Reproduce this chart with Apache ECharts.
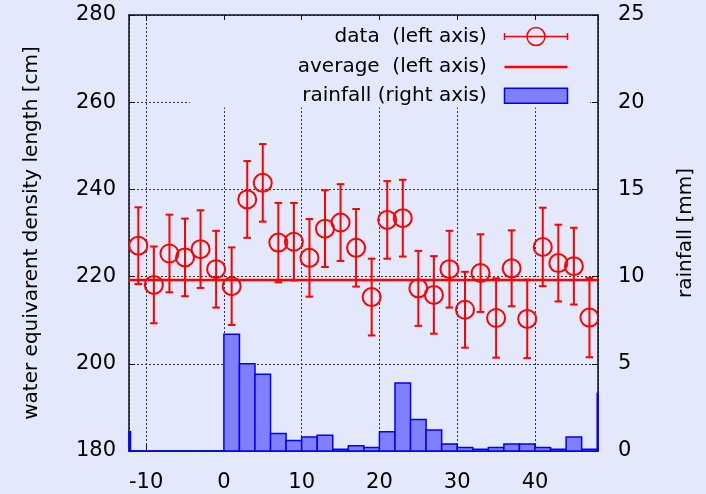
<!DOCTYPE html>
<html><head><meta charset="utf-8">
<script src="https://cdn.jsdelivr.net/npm/echarts@6/dist/echarts.min.js"></script>
<style>html,body{margin:0;padding:0;background:#e3e8fa}#c{width:706px;height:494px}</style>
</head><body><div id="c"></div>
<script>
// ---- data ----
const days = [-11,-9,-7,-5,-3,-1,1,3,5,7,9,11,13,15,17,19,21,23,25,27,29,31,33,35,37,39,41,43,45,47];
const density = [227.1,218.1,225.3,224.4,226.3,221.7,217.8,237.7,241.5,227.8,228.0,224.3,231.0,232.4,226.6,215.3,233.0,233.4,217.3,215.8,221.7,212.4,220.8,210.5,221.9,210.3,226.8,223.1,222.4,210.6];
const errors = [8.8,8.8,8.9,8.9,8.9,8.8,8.9,8.8,8.9,9.1,8.9,8.9,8.8,8.8,8.9,8.8,8.9,8.8,8.6,8.9,8.8,8.7,8.9,9.1,8.7,9.0,9.0,8.8,8.8,9.1];
const rainDays = [-13,-11,-9,-7,-5,-3,-1,1,3,5,7,9,11,13,15,17,19,21,23,25,27,29,31,33,35,37,39,41,43,45,47,49];
const rainfall = [1.1,0,0,0,0,0,0,6.7,5.0,4.4,1.0,0.6,0.8,0.9,0.1,0.3,0.2,1.1,3.9,1.8,1.2,0.4,0.2,0.1,0.2,0.4,0.4,0.2,0.1,0.8,0.1,3.3];
const binWidth = 2;
const average = 219.2;
const xRange = [-12.2, 48.1];
const leftRange = [180, 280, 20];
const rightRange = [0, 25, 5];
const names = ['data  (left axis)', 'average  (left axis)', 'rainfall (right axis)'];

// ---- chart ----
const BG = '#e3e8fa';
const FONT = 'DejaVu Sans';
const axisLineStyle = {color: '#111', width: 1.5};
const splitStyle = {show: true, lineStyle: {color: '#333', width: 1, type: [2, 2]}};
const tickStyle = {show: true, inside: true, length: 6, lineStyle: {color: '#111', width: 1}};

function gridRect(params) {
  const cs = params.coordSys;
  return {x: cs.x, y: cs.y, width: cs.width, height: cs.height};
}

const chart = echarts.init(document.getElementById('c'), null, {renderer: 'canvas'});
chart.setOption({
  backgroundColor: BG,
  animation: false,
  grid: {show: false, left: 129, right: 108, top: 15, bottom: 43},
  legend: {
    data: [
      {name: names[0], icon: 'path://M0,0M63,20M0,10H63M0,6.5V13.5M63,6.5V13.5M40.5,10A9,9,0,1,1,22.5,10A9,9,0,1,1,40.5,10',
       itemStyle: {color: 'none', borderColor: '#ff0000', borderWidth: 1.5}},
      {name: names[1], icon: 'path://M0,0M63,20M0,8.75H63V11.25H0Z',
       itemStyle: {color: '#ff0000', borderWidth: 0}},
      {name: names[2], icon: 'path://M0,0M63,20M0,2.5H63V17.5H0Z',
       itemStyle: {color: '#8080ff', borderColor: '#0000ff', borderWidth: 1.5}}
    ],
    orient: 'vertical', align: 'right',
    right: 116, top: 20,
    padding: [4, 20, 1, 108],
    itemWidth: 63, itemHeight: 20, itemGap: 8,
    backgroundColor: BG,
    formatter: n => n + '  ',
    textStyle: {fontFamily: FONT, fontSize: 20, color: '#000'},
    selectedMode: false
  },
  xAxis: [
    {type: 'value', min: xRange[0], max: xRange[1], splitNumber: 6, position: 'bottom',
     axisLine: {show: true, onZero: false, lineStyle: axisLineStyle}, axisTick: tickStyle,
     axisLabel: {fontFamily: FONT, fontSize: 21, color: '#000', margin: 21, showMinLabel: false, showMaxLabel: false,
       formatter: v => (Math.abs(v % 10) < 1e-6 ? String(v) : '')},
     splitLine: splitStyle},
    {type: 'value', min: xRange[0], max: xRange[1], splitNumber: 6, position: 'top',
     axisLine: {show: true, onZero: false, lineStyle: axisLineStyle}, axisTick: tickStyle,
     axisLabel: {show: false}, splitLine: {show: false}}
  ],
  yAxis: [
    {type: 'value', min: leftRange[0], max: leftRange[1], interval: leftRange[2], position: 'left',
     name: 'water equivarent density length [cm]', nameLocation: 'middle', nameRotate: 90, nameGap: 87,
     nameTextStyle: {fontFamily: FONT, fontSize: 20, color: '#000'},
     axisLine: {show: true, onZero: false, lineStyle: axisLineStyle}, axisTick: tickStyle,
     axisLabel: {fontFamily: FONT, fontSize: 21, color: '#000', margin: 13},
     splitLine: splitStyle},
    {type: 'value', min: rightRange[0], max: rightRange[1], interval: rightRange[2], position: 'right',
     name: 'rainfall [mm]', nameLocation: 'middle', nameRotate: 90, nameGap: 78,
     nameTextStyle: {fontFamily: FONT, fontSize: 20, color: '#000'},
     axisLine: {show: true, onZero: false, lineStyle: axisLineStyle}, axisTick: tickStyle,
     axisLabel: {fontFamily: FONT, fontSize: 21, color: '#000', margin: 20},
     splitLine: {show: false}}
  ],
  series: [
    {name: names[2], type: 'custom', xAxisIndex: 0, yAxisIndex: 1,
     itemStyle: {color: '#8080ff', borderColor: '#0000ff', borderWidth: 1.5},
     encode: {x: 0, y: 1},
     data: rainDays.map((d, i) => [d, rainfall[i]]),
     renderItem: function (params, api) {
       const x = api.value(0), v = api.value(1);
       const top = api.coord([x, v]);
       const base = api.coord([x, 0]);
       const w = api.size([binWidth, 0])[0];
       const rect = echarts.graphic.clipRectByRect(
         {x: top[0] - w / 2, y: top[1], width: w, height: base[1] - top[1]}, gridRect(params));
       if (!rect) return null;
       return {type: 'rect', shape: rect,
               style: {fill: '#8080ff', stroke: '#0000ff', lineWidth: 1.5}};
     }, z: 2},
    {name: names[1], type: 'line', xAxisIndex: 0, yAxisIndex: 0, symbol: 'none', showSymbol: false,
     lineStyle: {color: '#ff0000', width: 2.5}, itemStyle: {color: '#ff0000'},
     data: [[xRange[0], average], [xRange[1], average]], z: 3},
    {name: names[0], type: 'custom', xAxisIndex: 0, yAxisIndex: 0,
     itemStyle: {color: '#ff0000'},
     encode: {x: 0, y: 1},
     data: days.map((d, i) => [d, density[i], errors[i]]),
     renderItem: function (params, api) {
       const x = api.value(0), y = api.value(1), e = api.value(2);
       const c = api.coord([x, y]);
       const t = api.coord([x, y + e]);
       const b = api.coord([x, y - e]);
       const cap = 3.8;
       const st = {stroke: '#ff0000', lineWidth: 2, fill: null};
       return {type: 'group',
         clipPath: {type: 'rect', shape: gridRect(params)},
         children: [
         {type: 'line', shape: {x1: c[0], y1: t[1], x2: c[0], y2: b[1]}, style: st},
         {type: 'line', shape: {x1: c[0] - cap, y1: t[1], x2: c[0] + cap, y2: t[1]}, style: st},
         {type: 'line', shape: {x1: c[0] - cap, y1: b[1], x2: c[0] + cap, y2: b[1]}, style: st},
         {type: 'circle', shape: {cx: c[0], cy: c[1], r: 9}, style: {stroke: '#ff0000', lineWidth: 2, fill: 'none'}}
       ]};
     }, z: 4}
  ]
});
</script></body></html>
